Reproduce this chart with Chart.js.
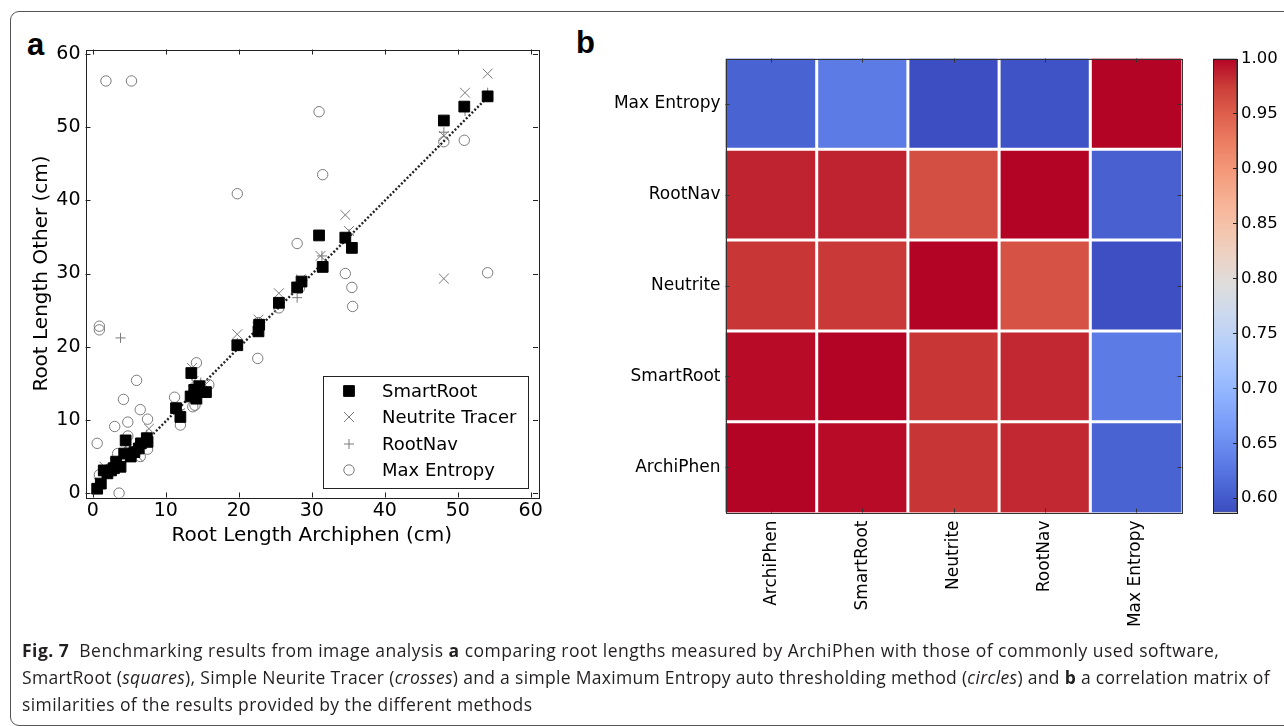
<!DOCTYPE html>
<html>
<head>
<meta charset="utf-8">
<script src="https://cdn.jsdelivr.net/npm/chart.js@4.4.0/dist/chart.umd.min.js"></script>
<style>
  html, body { margin: 0; padding: 0; background: #fff; }
  body { width: 1284px; height: 726px; position: relative; overflow: hidden; }
  .frame { position: absolute; left: 10px; top: 11px; width: 1300px; height: 715px;
           border: 1px solid #555; border-radius: 9px; box-sizing: border-box; }
  canvas { position: absolute; }
  .panel { position: absolute; font-family: "Liberation Sans", Arial, sans-serif;
           font-weight: bold; font-size: 31px; line-height: 1; color: #000; }
  .caption { position: absolute; left: 22px; top: 637px; font-family: "Open Sans", "Noto Sans", sans-serif;
             font-size: 17.5px; line-height: 27px; color: #231f20; white-space: nowrap; }
  .caption div { letter-spacing: 0.42px; }
  .caption b { font-weight: 700; }
</style>
</head>
<body>
<div class="frame"></div>
<div class="panel" style="left:27px; top:29px;">a</div>
<div class="panel" style="left:576px; top:27px;">b</div>
<canvas id="scatter" width="570" height="540" style="left:0; top:30px;"></canvas>
<canvas id="heat" width="620" height="610" style="left:580px; top:30px;"></canvas>
<canvas id="cbar" width="84" height="610" style="left:1200px; top:30px;"></canvas>
<div class="caption">
  <div style="letter-spacing:0.48px;"><b>Fig. 7</b>&nbsp; Benchmarking results from image analysis <b>a</b> comparing root lengths measured by ArchiPhen with those of commonly used software,</div>
  <div style="letter-spacing:0.31px;">SmartRoot (<i>squares</i>), Simple Neurite Tracer (<i>crosses</i>) and a simple Maximum Entropy auto thresholding method (<i>circles</i>) and <b>b</b> a correlation matrix of</div>
  <div>similarities of the results provided by the different methods</div>
</div>
<script>
// ---- panel a data ----
const xTicks = [0, 10, 20, 30, 40, 50, 60];
const yTicks = [0, 10, 20, 30, 40, 50, 60];

const smartRootX = [0.6,1.1,2.0,1.5,2.5,2.9,3.8,3.2,4.3,4.5,5.2,5.7,6.3,6.6,7.5,7.4,11.4,12.0,13.5,13.4,13.9,14.6,15.5,14.2,19.8,22.7,22.8,25.5,28.0,28.6,31.0,31.5,34.6,35.5,48.1,50.9,54.1];
const smartRootY = [0.6,1.3,2.7,3.1,3.1,3.4,3.6,4.3,5.4,7.2,5.0,5.6,6.1,6.8,7.0,7.5,11.6,10.4,16.4,13.2,14.1,14.6,13.8,12.9,20.2,22.1,23.0,26.0,28.1,28.9,35.2,30.9,34.9,33.5,50.9,52.8,54.2];

const neutriteX = [0.8,1.6,3.0,4.5,6.2,7.7,11.9,13.6,13.8,15.4,19.8,22.7,25.5,28.5,31.2,34.6,35.1,48.1,48.1,51.0,54.1];
const neutriteY = [1.4,3.6,4.1,6.4,5.0,8.8,10.9,17.1,15.3,14.8,21.7,23.7,27.3,29.2,32.4,38.0,35.8,48.8,29.3,54.7,57.3];

const rootNavX = [0.6,2.1,3.8,4.5,6.2,7.4,11.9,13.6,14.8,19.8,22.6,28.0,31.4,35.1,48.1,51.0,54.1];
const rootNavY = [0.9,3.2,21.2,6.8,6.4,8.0,11.4,16.0,15.1,20.5,23.3,26.7,32.4,35.4,49.3,52.2,54.7];

const maxEntX = [1.8,5.3,31.0,48.1,50.9,31.5,19.8,28.0,34.6,35.5,35.6,54.1,25.5,28.3,22.6,22.7,0.9,0.9,14.2,15.9,11.2,13.7,14.0,12.0,6.0,4.2,6.5,4.8,3.0,7.5,0.6,3.6,3.4,4.8,7.5,6.5,0.9,14.1];
const maxEntY = [56.3,56.3,52.1,48.0,48.2,43.5,40.9,34.1,30.0,28.1,25.5,30.1,25.3,28.0,18.4,23.3,22.8,22.3,17.8,14.8,13.1,11.8,12.0,9.3,15.4,12.8,11.4,9.7,9.1,10.1,6.8,0.0,5.4,7.8,6.0,5.0,2.5,14.4];

const trendX = [7.5, 54.1];
const trendY = [7.3, 54.1];

// ---- panel b data ----
const methods = ['ArchiPhen', 'SmartRoot', 'Neutrite', 'RootNav', 'Max Entropy'];
// one row per method, columns in the same order as methods
const corrArchiPhen  = [1.000, 0.997, 0.978, 0.984, 0.608];
const corrSmartRoot  = [0.997, 1.000, 0.977, 0.984, 0.632];
const corrNeutrite   = [0.977, 0.976, 1.000, 0.959, 0.590];
const corrRootNav    = [0.986, 0.986, 0.961, 1.000, 0.606];
const corrMaxEntropy = [0.608, 0.632, 0.589, 0.593, 1.000];
const cbMin = 0.587, cbMax = 1.0;
const cbTicks = [0.60, 0.65, 0.70, 0.75, 0.80, 0.85, 0.90, 0.95, 1.00];

// matplotlib coolwarm, sampled every 1/16
const coolwarmStops = [
  [0.0, 0.2298, 0.2987, 0.7537], [0.0625, 0.3039, 0.4065, 0.8450], [0.125, 0.3830, 0.5094, 0.9174],
  [0.1875, 0.4667, 0.6046, 0.9682], [0.25, 0.5530, 0.6889, 0.9954], [0.3125, 0.6392, 0.7596, 0.9982],
  [0.375, 0.7222, 0.8140, 0.9766], [0.4375, 0.7987, 0.8498, 0.9317], [0.5, 0.8654, 0.8654, 0.8654],
  [0.5625, 0.9241, 0.8274, 0.7745], [0.625, 0.9589, 0.7698, 0.6780], [0.6875, 0.9700, 0.6943, 0.5794],
  [0.75, 0.9580, 0.6028, 0.4818], [0.8125, 0.9239, 0.4973, 0.3880], [0.875, 0.8692, 0.3783, 0.3003],
  [0.9375, 0.7956, 0.2413, 0.2205], [1.0, 0.7057, 0.0156, 0.1502]
];
function stopRgb(r, g, b) {
  return 'rgb(' + Math.round(r * 255) + ',' + Math.round(g * 255) + ',' + Math.round(b * 255) + ')';
}
function coolwarm(v) {
  let t = (v - cbMin) / (cbMax - cbMin);
  t = Math.max(0, Math.min(1, t));
  for (let i = 1; i < coolwarmStops.length; i++) {
    const a = coolwarmStops[i - 1], b = coolwarmStops[i];
    if (t <= b[0]) {
      const f = (t - a[0]) / (b[0] - a[0]);
      return stopRgb(a[1] + (b[1] - a[1]) * f, a[2] + (b[2] - a[2]) * f, a[3] + (b[3] - a[3]) * f);
    }
  }
  const l = coolwarmStops[coolwarmStops.length - 1];
  return stopRgb(l[1], l[2], l[3]);
}

const pts = (xs, ys) => xs.map((x, i) => ({ x: x, y: ys[i] }));
const grey = '#7a7a7a';
const tickFont = { family: 'DejaVu Sans', size: 19 };
const titleFont = { family: 'DejaVu Sans', size: 20 };

// inward ticks + frame, matplotlib style
const mplFrame = {
  id: 'mplFrame',
  afterDraw(chart, args, opts) {
    const { ctx, chartArea: a, scales } = chart;
    ctx.save();
    ctx.strokeStyle = '#222';
    ctx.lineWidth = 1;
    ctx.beginPath();
    (opts.xTicks || []).forEach(v => {
      const px = Math.round(scales.x.getPixelForValue(v)) + 0.5;
      ctx.moveTo(px, a.bottom); ctx.lineTo(px, a.bottom - opts.len);
      ctx.moveTo(px, a.top); ctx.lineTo(px, a.top + opts.len);
    });
    (opts.yTicks || []).forEach(v => {
      const py = Math.round(scales.y.getPixelForValue(v)) + 0.5;
      if (opts.left !== false) { ctx.moveTo(a.left, py); ctx.lineTo(a.left + opts.len, py); }
      ctx.moveTo(a.right, py); ctx.lineTo(a.right - opts.len, py);
    });
    ctx.stroke();
    ctx.strokeRect(Math.round(a.left) + 0.5, Math.round(a.top) + 0.5,
                   Math.round(a.right - a.left), Math.round(a.bottom - a.top));
    ctx.restore();
  }
};

// legend box inside the plot, lower right
const boxLegend = {
  id: 'boxLegend',
  afterDraw(chart, args, opts) {
    const { ctx, chartArea: a } = chart;
    const w = 205, h = 112;
    const left = a.right - 10 - w, top = a.bottom - 9.5 - h;
    ctx.save();
    ctx.fillStyle = '#fff';
    ctx.fillRect(left, top, w, h);
    ctx.strokeStyle = '#222';
    ctx.lineWidth = 1;
    ctx.strokeRect(Math.round(left) + 0.5, Math.round(top) + 0.5, w, h);
    const rows = [15, 41, 68, 94];
    opts.items.forEach((idx, i) => {
      const ds = chart.data.datasets[idx];
      const y = top + rows[i];
      ctx.fillStyle = ds.pointBackgroundColor;
      ctx.strokeStyle = ds.pointBorderColor;
      ctx.lineWidth = ds.pointBorderWidth;
      Chart.helpers.drawPoint(ctx, {
        pointStyle: ds.pointStyle, radius: ds.pointRadius, borderWidth: ds.pointBorderWidth, rotation: 0
      }, left + 26, y);
      ctx.fillStyle = '#000';
      ctx.font = '18px "DejaVu Sans"';
      ctx.textBaseline = 'middle';
      ctx.fillText(ds.label, left + 59, y + 1);
    });
    ctx.restore();
  }
};

new Chart(document.getElementById('scatter'), {
  type: 'scatter',
  data: {
    datasets: [
      { label: 'SmartRoot', data: pts(smartRootX, smartRootY), pointStyle: 'rect', pointRadius: 7.6,
        pointBackgroundColor: '#000', pointBorderColor: '#000', pointBorderWidth: 1 },
      { label: 'Neutrite Tracer', data: pts(neutriteX, neutriteY), pointStyle: 'crossRot', pointRadius: 7,
        pointBackgroundColor: 'rgba(0,0,0,0)', pointBorderColor: grey, pointBorderWidth: 1 },
      { label: 'RootNav', data: pts(rootNavX, rootNavY), pointStyle: 'cross', pointRadius: 5,
        pointBackgroundColor: 'rgba(0,0,0,0)', pointBorderColor: grey, pointBorderWidth: 1 },
      { label: 'Max Entropy', data: pts(maxEntX, maxEntY), pointStyle: 'circle', pointRadius: 5.2,
        pointBackgroundColor: 'rgba(0,0,0,0)', pointBorderColor: grey, pointBorderWidth: 1 },
      { type: 'line', label: 'fit', data: pts(trendX, trendY), showLine: true, borderColor: '#222',
        borderWidth: 2.4, borderDash: [2, 2], pointRadius: 0, fill: false }
    ]
  },
  options: {
    responsive: false,
    animation: false,
    layout: { padding: { top: 19.5, right: 32, left: 0, bottom: 0 } },
    plugins: {
      legend: { display: false },
      tooltip: { enabled: false },
      mplFrame: { xTicks: xTicks, yTicks: yTicks, len: 5 },
      boxLegend: { items: [0, 1, 2, 3] }
    },
    scales: {
      x: {
        type: 'linear', min: -1, max: 61,
        afterBuildTicks: s => { s.ticks = xTicks.map(v => ({ value: v })); },
        afterFit: s => { s.height = 72.5; },
        grid: { display: false, drawTicks: false },
        border: { display: false },
        ticks: { font: tickFont, color: '#000', padding: 2, maxRotation: 0 },
        title: { display: true, text: 'Root Length Archiphen (cm)', font: titleFont, color: '#000',
                 padding: { top: 0, bottom: 22 } }
      },
      y: {
        type: 'linear', min: -0.6, max: 60.6,
        afterBuildTicks: s => { s.ticks = yTicks.map(v => ({ value: v })); },
        afterFit: s => { s.width = 85.5; },
        grid: { display: false, drawTicks: false },
        border: { display: false },
        ticks: { font: tickFont, color: '#000', padding: 5 },
        title: { display: true, text: 'Root Length Other (cm)', font: titleFont, color: '#000',
                 padding: { top: 30, bottom: 0 } }
      }
    }
  },
  plugins: [mplFrame, boxLegend]
});

// ---- panel b: correlation matrix as stacked unit bars ----
const corrRows = [corrArchiPhen, corrSmartRoot, corrNeutrite, corrRootNav, corrMaxEntropy];
const cellLines = {
  id: 'cellLines',
  afterDatasetsDraw(chart) {
    const { ctx, chartArea: a, scales } = chart;
    ctx.save();
    ctx.strokeStyle = '#fff';
    ctx.lineWidth = 3;
    ctx.beginPath();
    for (let i = 0; i < methods.length - 1; i++) {
      const px = (scales.x.getPixelForValue(i) + scales.x.getPixelForValue(i + 1)) / 2;
      ctx.moveTo(px, a.top); ctx.lineTo(px, a.bottom);
      const py = scales.y.getPixelForValue(i + 1);
      ctx.moveTo(a.left, py); ctx.lineTo(a.right, py);
    }
    ctx.stroke();
    // frame and small inward ticks at cell centres
    ctx.strokeStyle = '#333';
    ctx.lineWidth = 1;
    ctx.beginPath();
    for (let i = 0; i < methods.length; i++) {
      const px = Math.round(scales.x.getPixelForValue(i)) + 0.5;
      ctx.moveTo(px, a.bottom); ctx.lineTo(px, a.bottom - 4);
      ctx.moveTo(px, a.top); ctx.lineTo(px, a.top + 4);
      const py = Math.round(scales.y.getPixelForValue(i + 0.5)) + 0.5;
      ctx.moveTo(a.left, py); ctx.lineTo(a.left + 4, py);
      ctx.moveTo(a.right, py); ctx.lineTo(a.right - 4, py);
    }
    ctx.stroke();
    ctx.strokeRect(Math.round(a.left) + 0.5, Math.round(a.top) + 0.5,
                   Math.round(a.right - a.left), Math.round(a.bottom - a.top));
    ctx.restore();
  }
};

const heatFont = { family: 'DejaVu Sans', size: 17 };
new Chart(document.getElementById('heat'), {
  type: 'bar',
  data: {
    labels: methods,
    datasets: corrRows.map((row, r) => ({
      label: methods[r],
      data: row.map(() => 1),
      backgroundColor: row.map(v => coolwarm(v)),
      borderWidth: 0,
      barPercentage: 1,
      categoryPercentage: 1
    }))
  },
  options: {
    responsive: false,
    animation: false,
    layout: { padding: { top: 28.5, right: 18.5, left: 0, bottom: 0 } },
    plugins: { legend: { display: false }, tooltip: { enabled: false } },
    scales: {
      x: {
        stacked: true,
        afterFit: s => { s.height = 127.5; },
        grid: { display: false, drawTicks: false },
        border: { display: false },
        ticks: { font: heatFont, color: '#000', minRotation: 90, maxRotation: 90, padding: 8, autoSkip: false }
      },
      y: {
        stacked: true, min: 0, max: 5,
        afterBuildTicks: s => { s.ticks = methods.map((m, i) => ({ value: i + 0.5 })); },
        afterFit: s => { s.width = 145.5; },
        grid: { display: false, drawTicks: false },
        border: { display: false },
        ticks: { font: heatFont, color: '#000', padding: 5, callback: (v, i) => methods[i] }
      }
    }
  },
  plugins: [cellLines]
});

// ---- colour bar ----
new Chart(document.getElementById('cbar'), {
  type: 'bar',
  data: {
    labels: ['r'],
    datasets: [{
      data: [[cbMin, cbMax]],
      backgroundColor: c => {
        const ch = c.chart;
        if (!ch.chartArea) return 'rgba(0,0,0,0)';
        const y = ch.scales.y;
        const g = ch.ctx.createLinearGradient(0, y.getPixelForValue(cbMin), 0, y.getPixelForValue(cbMax));
        coolwarmStops.forEach(s => g.addColorStop(s[0], stopRgb(s[1], s[2], s[3])));
        return g;
      },
      borderColor: '#333',
      borderWidth: 1,
      borderSkipped: false,
      barPercentage: 1,
      categoryPercentage: 1
    }]
  },
  options: {
    responsive: false,
    animation: false,
    layout: { padding: { top: 28.5, left: 13, right: 0, bottom: 127.5 } },
    plugins: { legend: { display: false }, tooltip: { enabled: false },
               mplFrame: { xTicks: [], yTicks: cbTicks, len: 4, left: false } },
    scales: {
      x: { display: false },
      y: {
        position: 'right', min: cbMin, max: cbMax,
        afterBuildTicks: s => { s.ticks = cbTicks.map(v => ({ value: v })); },
        afterFit: s => { s.width = 47; },
        grid: { display: false, drawTicks: false },
        border: { display: false },
        ticks: { font: { family: 'DejaVu Sans', size: 16.5 }, color: '#000', padding: 4,
                 callback: v => v.toFixed(2) }
      }
    }
  },
  plugins: [mplFrame]
});
</script>
</body>
</html>
